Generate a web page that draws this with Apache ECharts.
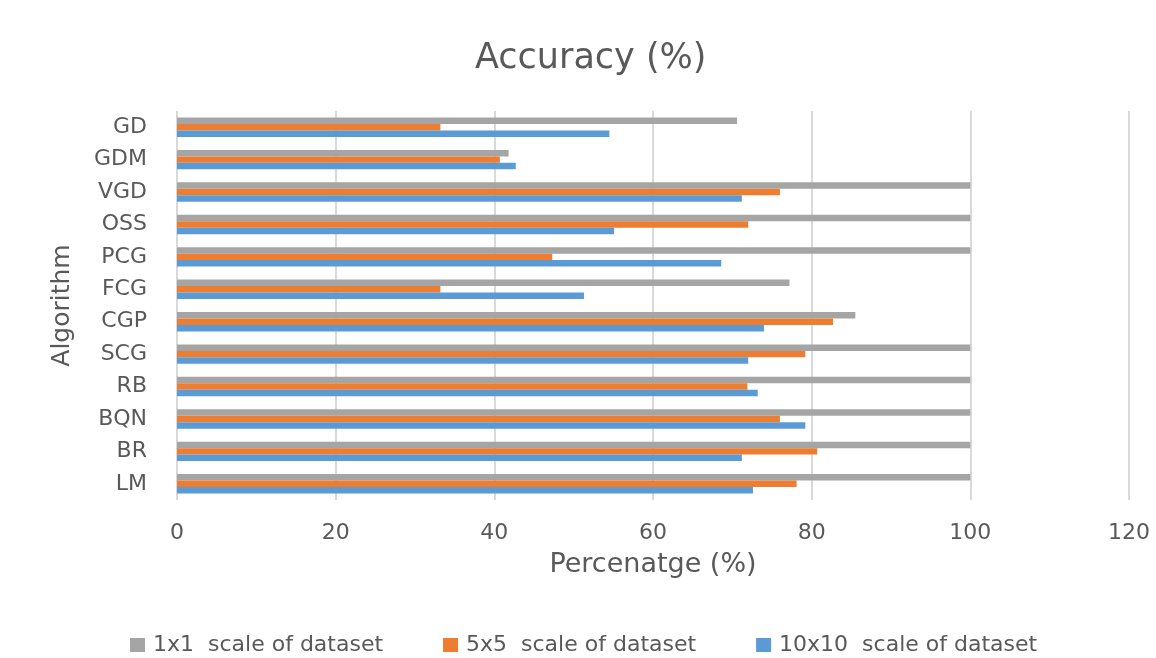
<!DOCTYPE html>
<html><head><meta charset="utf-8">
<script src="https://cdn.jsdelivr.net/npm/echarts@6/dist/echarts.min.js"></script>
<style>html,body{margin:0;padding:0;background:#fff}#c{width:1156px;height:658px}</style>
</head><body><div id="c"></div>
<script>
// bottom-to-top order
const categories = ['LM','BR','BQN','RB','SCG','CGP','FCG','PCG','OSS','VGD','GDM','GD'];
const seriesNames = ['1x1  scale of dataset','5x5  scale of dataset','10x10  scale of dataset'];
const scale1x1   = [100, 100, 100, 100, 100, 85.5, 77.2, 100, 100, 100, 41.8, 70.6];
const scale5x5   = [78.1, 80.7, 76.0, 71.9, 79.2, 82.7, 33.2, 47.3, 72.0, 76.0, 40.7, 33.2];
const scale10x10 = [72.6, 71.2, 79.2, 73.2, 72.0, 74.0, 51.3, 68.6, 55.1, 71.2, 42.7, 54.5];
const xTicks = [0, 20, 40, 60, 80, 100, 120];
const colors = ['#A5A5A5', '#ED7D31', '#5B9BD5'];

const font = '"DejaVu Sans", Verdana, sans-serif';
const chart = echarts.init(document.getElementById('c'), null, {renderer: 'canvas'});
const values = [scale1x1, scale5x5, scale10x10];
chart.setOption({
  animation: false,
  backgroundColor: '#fff',
  title: {
    text: 'Accuracy (%)', left: 470, top: 36,
    textStyle: {fontFamily: font, fontSize: 35, fontWeight: 'normal', color: '#595959'}
  },
  legend: {
    top: 629, left: 125, itemWidth: 15, itemHeight: 14, itemGap: 60,
    icon: 'rect',
    data: seriesNames,
    textStyle: {fontFamily: font, fontSize: 22, color: '#595959', padding: [0, 0, 0, 3]}
  },
  grid: {left: 177, right: 27, top: 111, bottom: 158, containLabel: false},
  xAxis: {
    type: 'value', min: xTicks[0], max: xTicks[xTicks.length - 1], interval: 20,
    name: 'Percenatge (%)', nameLocation: 'middle', nameGap: 51,
    nameTextStyle: {fontFamily: font, fontSize: 27, color: '#595959'},
    axisLine: {show: false}, axisTick: {show: false},
    axisLabel: {fontFamily: font, fontSize: 22, color: '#595959', margin: 22},
    splitLine: {show: true, lineStyle: {color: '#D9D9D9', width: 2}}
  },
  yAxis: {
    type: 'category', data: categories,
    name: 'Algorithm', nameLocation: 'middle', nameGap: 102, nameRotate: 90,
    nameTextStyle: {fontFamily: font, fontSize: 25, color: '#595959'},
    axisLine: {show: false}, axisTick: {show: false},
    axisLabel: {fontFamily: font, fontSize: 22, color: '#595959', margin: 30},
    splitLine: {show: false}
  },
  series: seriesNames.map((n, i) => ({
    name: n, type: 'bar', data: values[i],
    itemStyle: {color: colors[i]},
    barGap: '0%', barCategoryGap: '40%'
  }))
});
</script></body></html>
